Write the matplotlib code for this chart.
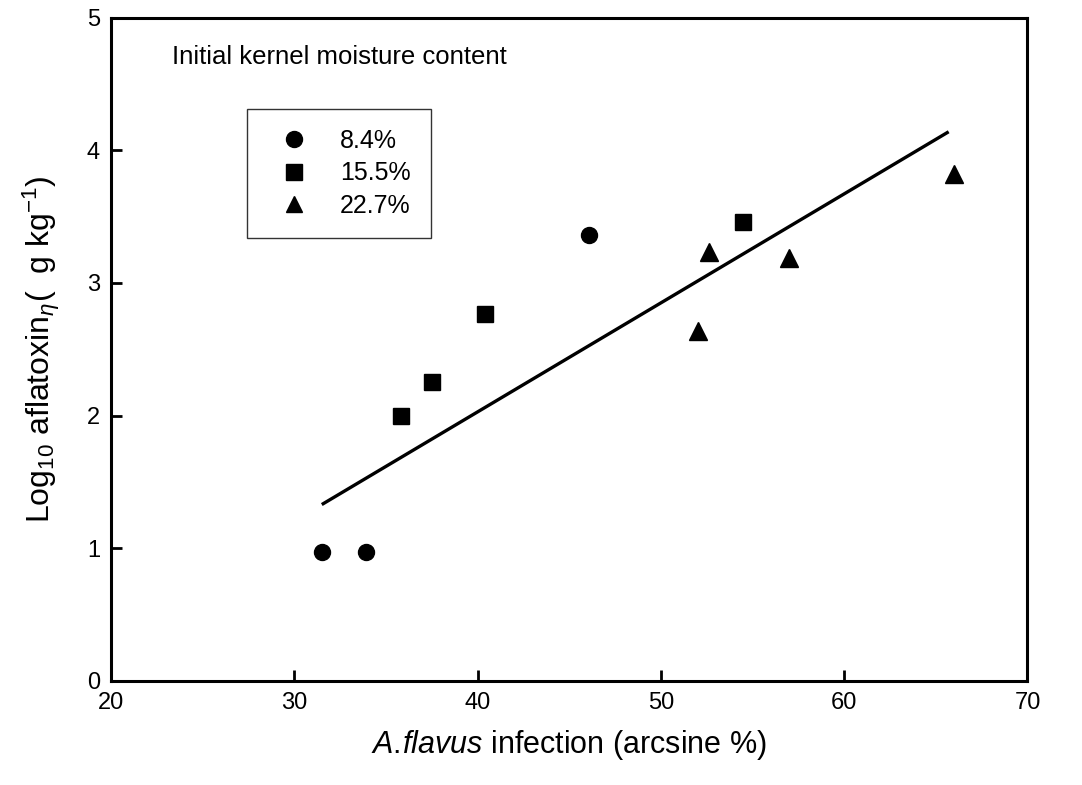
import matplotlib
import matplotlib.pyplot as plt
import numpy as np

matplotlib.rcParams.update({'font.family': 'Liberation Sans', 'mathtext.fontset': 'custom',
                            'mathtext.rm': 'Liberation Sans', 'mathtext.it': 'Liberation Sans:italic'})

## Arcsine-transformed infection vs log10 aflatoxin, by initial kernel moisture
moisture_labels = ['8.4%', '15.5%', '22.7%']
infection_84 = [31.5, 33.9, 46.1]
aflatoxin_84 = [0.97, 0.97, 3.36]
infection_155 = [35.8, 37.5, 40.4, 54.5]
aflatoxin_155 = [2.00, 2.25, 2.77, 3.46]
infection_227 = [52.0, 52.6, 57.0, 66.0]
aflatoxin_227 = [2.64, 3.23, 3.19, 3.82]

# regression line end points
fit_x = [31.5, 65.7]
fit_y = [1.33, 4.14]

fig = plt.figure(figsize=(10.82, 7.85), dpi=100)
ax1 = fig.add_axes([0.1026, 0.1325, 0.847, 0.845])

ax1.plot(fit_x, fit_y, color='k', lw=2.4, solid_capstyle='butt')
ax1.plot(infection_84, aflatoxin_84, 'o', color='k', ms=11.5, ls='none', label=moisture_labels[0])
ax1.plot(infection_155, aflatoxin_155, 's', color='k', ms=11, ls='none', label=moisture_labels[1])
ax1.plot(infection_227, aflatoxin_227, '^', color='k', ms=13, ls='none', label=moisture_labels[2])

ax1.set_xlim(20, 70)
ax1.set_ylim(0, 5)
ax1.set_xticks([20, 30, 40, 50, 60, 70])
ax1.set_yticks([0, 1, 2, 3, 4, 5])
ax1.tick_params(direction='in', length=8, width=2, labelsize=17, pad=8)
for s in ax1.spines.values():
    s.set_linewidth(2.2)

ax1.set_xlabel('$\\it{A.\\!flavus}$ infection (arcsine %)', fontsize=22, labelpad=10)
ax1.set_ylabel('Log$_{10}$ aflatoxin$_{\\eta}$(  g kg$^{-1}$)', fontsize=23, labelpad=18)

ax1.text(0.067, 0.94, 'Initial kernel moisture content', transform=ax1.transAxes,
         fontsize=18.5, va='center', ha='left')

leg = ax1.legend(loc='upper left', bbox_to_anchor=(0.148, 0.863), frameon=True, fancybox=False,
                 edgecolor='k', fontsize=18, borderpad=0.8, labelspacing=0.35,
                 handlelength=2.2, handletextpad=0.74, borderaxespad=0, numpoints=1)
leg.get_frame().set_linewidth(1.0)
for h in leg.legend_handles:
    h.set_markersize(11.5)

fig.savefig('out.png', dpi=100)
